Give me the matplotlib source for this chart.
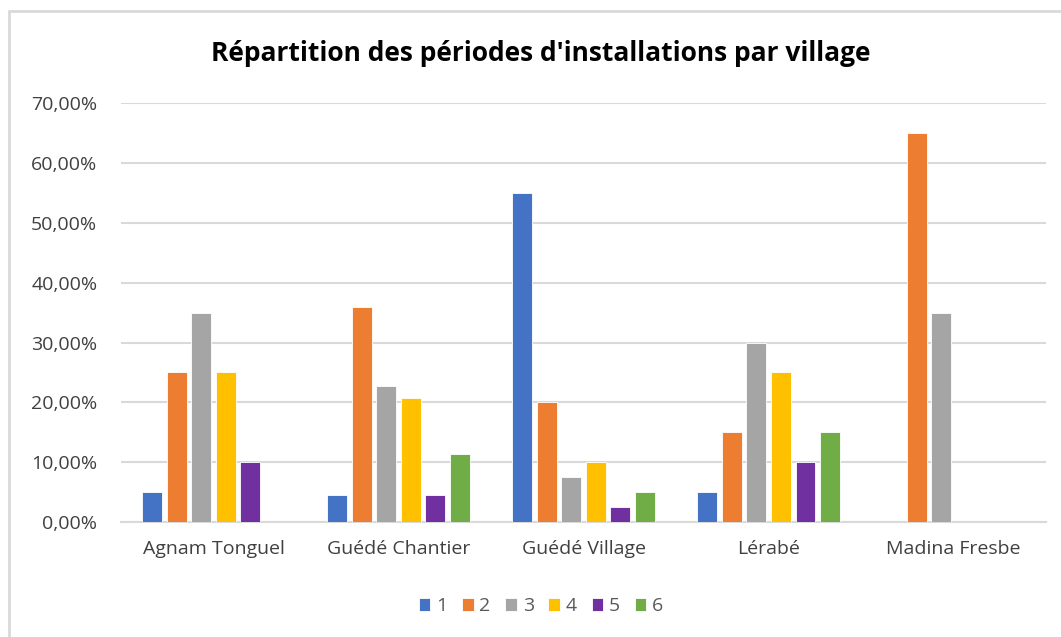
import matplotlib
matplotlib.use('Agg')
import matplotlib.pyplot as plt
import matplotlib.ticker as ticker
import matplotlib.patches as patches
import numpy as np

villages = ['Agnam Tonguel', 'Guédé Chantier', 'Guédé Village', 'Lérabé', 'Madina Fresbe']
periodes = ['1', '2', '3', '4', '5', '6']

# part de chaque période par village (fractions)
p1 = [0.05, 0.0455, 0.55, 0.05, 0.0]
p2 = [0.25, 0.359, 0.20, 0.15, 0.65]
p3 = [0.35, 0.227, 0.075, 0.30, 0.35]
p4 = [0.25, 0.208, 0.10, 0.25, 0.0]
p5 = [0.10, 0.0455, 0.025, 0.10, 0.0]
p6 = [0.0, 0.1135, 0.05, 0.15, 0.0]
series = [p1, p2, p3, p4, p5, p6]

colors = ['#4472C4', '#ED7D31', '#A5A5A5', '#FFC000', '#7030A0', '#70AD47']

plt.rcParams['font.family'] = ['Open Sans', 'DejaVu Sans']

fig = plt.figure(figsize=(10.61, 6.37), dpi=100)
ax = fig.add_axes([0.114, 0.1805, 0.872, 0.6575])

x = np.arange(len(villages))
width = 0.108
step = 0.133
for i, vals in enumerate(series):
    offs = (i - 2.5) * step
    ax.bar(x + offs, vals, width, color=colors[i], edgecolor='white', linewidth=0.6,
           label=periodes[i], zorder=3)

ax.set_xlim(-0.5, len(villages) - 0.5)
ax.set_ylim(0, 0.70)
ax.yaxis.set_major_locator(ticker.MultipleLocator(0.10))
ax.yaxis.set_major_formatter(ticker.FuncFormatter(lambda v, p: ('%.2f%%' % (v * 100)).replace('.', ',')))
ax.set_xticks(x)
ax.set_xticklabels(villages)
ax.tick_params(axis='both', length=0, labelsize=14, labelcolor='#404040')
ax.tick_params(axis='y', pad=17)
ax.tick_params(axis='x', pad=13)
ax.grid(axis='y', color='#d9d9d9', linewidth=1.5, zorder=0)
for s in ['top', 'right', 'left']:
    ax.spines[s].set_visible(False)
ax.spines['bottom'].set_color('#d9d9d9')
ax.spines['bottom'].set_linewidth(1.5)

fig.text(0.51, 0.916, "Répartition des périodes d'installations par village", ha='center', va='center',
         fontsize=19, fontweight='bold', color='black')

leg = fig.legend(loc='center', bbox_to_anchor=(0.51, 0.048), ncol=6, frameon=False, fontsize=14,
                 handlelength=0.6, handleheight=0.6, handletextpad=0.3, columnspacing=0.75)
for t in leg.get_texts():
    t.set_color('#595959')

# cadre du graphique
fig.patches.append(patches.Rectangle((9 / 1061, -0.1), 1.2, 1 - 11 / 637 + 0.1, transform=fig.transFigure,
                                     fill=False, edgecolor='#d9d9d9', linewidth=2))

plt.savefig('out.png', dpi=100)
plt.close()
